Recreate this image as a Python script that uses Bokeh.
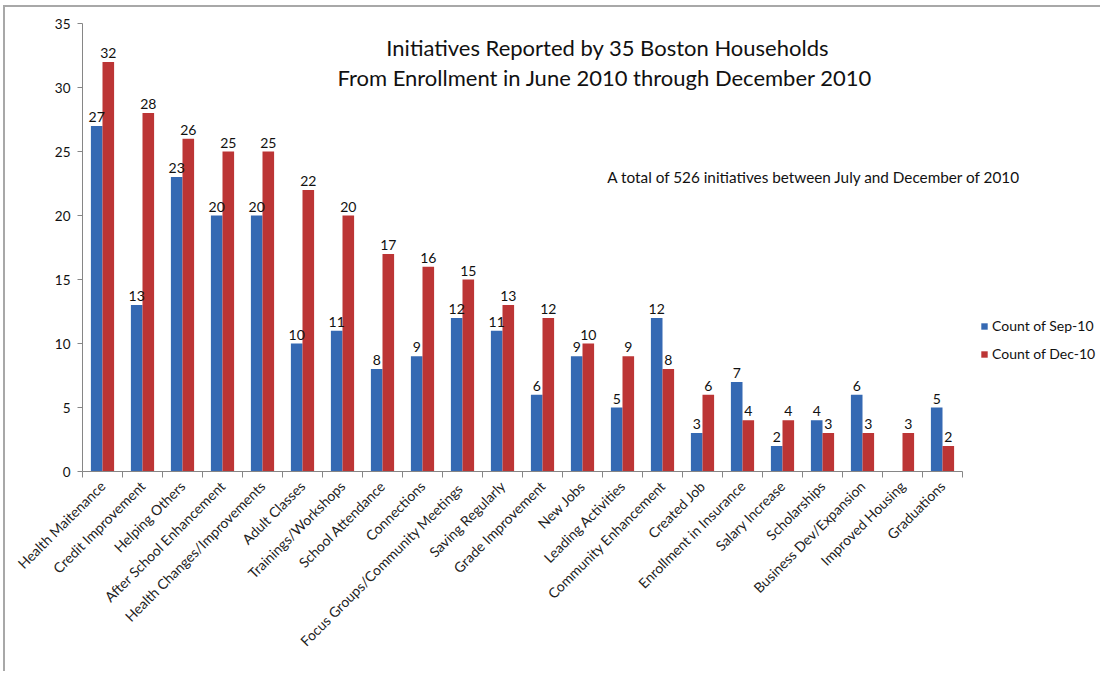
import math
from bokeh.plotting import figure
from bokeh.models import (ColumnDataSource, Range1d, FixedTicker, LabelSet, Label,
                          Legend, LegendItem)
from bokeh.core.properties import value
from bokeh.embed import file_html
from bokeh.resources import INLINE

categories = ["Health Maitenance", "Credit Improvement", "Helping Others",
              "After School Enhancement", "Health Changes/Improvements", "Adult Classes",
              "Trainings/Workshops", "School Attendance", "Connections",
              "Focus Groups/Community  Meetings", "Saving Regularly", "Grade Improvement",
              "New Jobs", "Leading Activities", "Community Enhancement", "Created Job",
              "Enrollment in Insurance", "Salary Increase", "Scholarships",
              "Business Dev/Expansion", "Improved Housing", "Graduations"]
sep_counts = [27, 13, 23, 20, 20, 10, 11, 8, 9, 12, 11, 6, 9, 5, 12, 3, 7, 2, 4, 6, None, 5]
dec_counts = [32, 28, 26, 25, 25, 22, 20, 17, 16, 15, 13, 12, 10, 9, 8, 6, 4, 4, 3, 3, 3, 2]
y_ticks = [0, 5, 10, 15, 20, 25, 30, 35]
title_lines = ["Initiatives Reported  by 35 Boston Households",
               "From Enrollment  in June 2010 through December  2010"]
note_text = "A total of 526 initiatives between July and December of 2010"
series_names = ["Count of Sep-10", "Count of Dec-10"]

FONT = "Lato"
BLUE = "#3569B3"
RED = "#BC3535"
AX = "#868686"

n = len(categories)
bar_w = 0.29
centers = [i + 0.5 for i in range(n)]
sep_src = ColumnDataSource(dict(
    x=[c - bar_w / 2 for c in centers],
    top=[float("nan") if v is None else v for v in sep_counts],
    lab=["" if v is None else str(v) for v in sep_counts],
    ly=[0 if v is None else v for v in sep_counts]))
dec_src = ColumnDataSource(dict(
    x=[c + bar_w / 2 for c in centers],
    top=dec_counts,
    lab=[str(v) for v in dec_counts],
    ly=dec_counts))

# extra room on the right of the category axis for legend / note
x_end = n + 138 / 40.0

p = figure(width=1097, height=666, output_backend="svg", toolbar_location=None,
           x_range=Range1d(0, x_end), y_range=Range1d(0, 35),
           min_border_left=77, min_border_right=2, min_border_top=16,
           min_border_bottom=202,
           styles={"margin-left": "3px", "margin-top": "5px",
                   "border-left": "2px solid #A8A8A8",
                   "border-top": "2px solid #A8A8A8"})
p.outline_line_color = None
p.xgrid.visible = False
p.ygrid.visible = False
p.background_fill_color = "white"
p.border_fill_color = "white"

rb = p.vbar(x="x", top="top", width=bar_w, source=sep_src, fill_color=BLUE,
            line_color=None)
rr = p.vbar(x="x", top="top", width=bar_w, source=dec_src, fill_color=RED,
            line_color=None)

for src in (sep_src, dec_src):
    p.add_layout(LabelSet(x="x", y="ly", text="lab", source=src, y_offset=4,
                          text_align="center", text_baseline="bottom",
                          text_font=value(FONT), text_font_size="14px",
                          text_color="#111111"))

# axes
xa = p.xaxis[0]
xa.ticker = FixedTicker(ticks=centers, minor_ticks=list(range(n + 1)))
xa.bounds = (0, n)
xa.major_label_overrides = {c: name for c, name in zip(centers, categories)}
xa.major_label_orientation = math.pi / 4
xa.major_tick_line_color = None
xa.minor_tick_line_color = AX
xa.minor_tick_in = 0
xa.minor_tick_out = 6
xa.axis_line_color = AX
xa.major_label_text_font = FONT
xa.major_label_text_font_size = "14px"
xa.major_label_text_color = "#222222"
xa.major_label_standoff = 6

ya = p.yaxis[0]
ya.ticker = FixedTicker(ticks=y_ticks)
ya.minor_tick_line_color = None
ya.major_tick_in = 0
ya.major_tick_out = 5
ya.major_tick_line_color = AX
ya.axis_line_color = AX
ya.major_label_text_font = FONT
ya.major_label_text_font_size = "13.5px"
ya.major_label_text_color = "#111111"
ya.major_label_standoff = 7

# title inside plot
for txt, yy in zip(title_lines, [33.1, 30.75]):
    p.add_layout(Label(x=13.2, y=yy, text=txt, text_align="center",
                       text_baseline="middle", text_font=FONT,
                       text_font_size="22px", text_color="#111111"))
p.add_layout(Label(x=13.12, y=22.97, text=note_text, text_align="left",
                   text_baseline="middle", text_font=FONT, text_font_size="15.3px",
                   text_color="#111111"))

legend = Legend(items=[LegendItem(label=series_names[0], renderers=[rb]),
                       LegendItem(label=series_names[1], renderers=[rr])],
                location=(898, 109), orientation="vertical",
                glyph_width=8, glyph_height=8, label_text_font=FONT,
                label_text_font_size="14px", label_text_color="#111111",
                spacing=11, padding=4, label_standoff=4,
                background_fill_alpha=0, border_line_color=None)
p.add_layout(legend, "center")

open("out.html", "w").write(file_html(p, INLINE))
